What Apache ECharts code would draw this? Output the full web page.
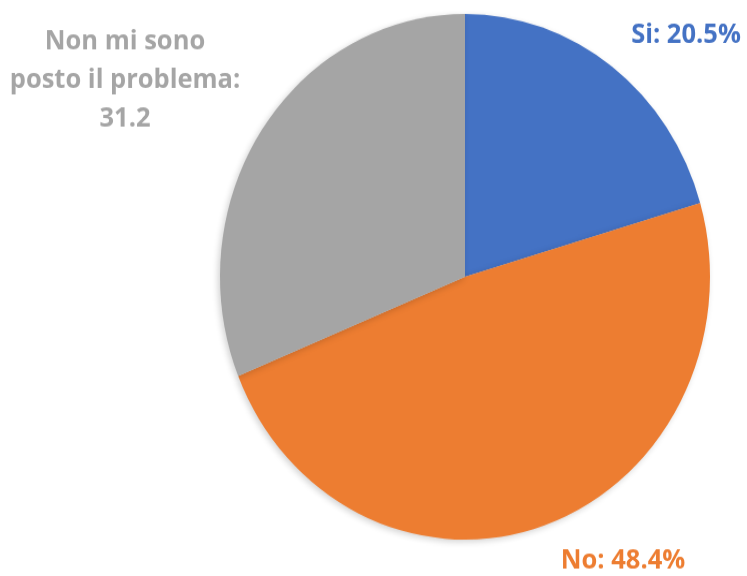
<!DOCTYPE html>
<html>
<head>
<meta charset="utf-8">
<script src="https://cdn.jsdelivr.net/npm/echarts@6/dist/echarts.min.js"></script>
<style>
  html, body { margin: 0; padding: 0; background: #fff; overflow: hidden; }
  /* il grafico originale è leggermente schiacciato: lo stiro in verticale */
  #main { width: 747px; height: 640px; transform: scaleY(1.0727); transform-origin: 0 0; }
</style>
</head>
<body>
<div id="main"></div>
<script>
  // dati
  var categorie = ['Si', 'No', 'Non mi sono\nposto il problema'];
  var valori = [20.5, 48.4, 31.2];
  var suffissi = ['%', '%', ''];
  var colori = ['#4472C4', '#ED7D31', '#A5A5A5'];

  // posizione delle etichette (coordinate del div prima dello stiramento)
  var posEtichette = [
    { x: 686, y: 33 },
    { x: 623, y: 523 },
    { x: 125, y: 75 }
  ];

  var myChart = echarts.init(document.getElementById('main'));

  var dati = categorie.map(function (nome, i) {
    return {
      name: nome,
      value: valori[i],
      itemStyle: { color: colori[i] },
      label: { color: colori[i] }
    };
  });

  var option = {
    animation: false,
    series: [
      {
        type: 'pie',
        center: [465, 258],
        radius: [0, 245],
        startAngle: 90,
        clockwise: true,
        data: dati,
        itemStyle: {
          borderWidth: 0,
          shadowBlur: 6,
          shadowColor: 'rgba(0,0,0,0.18)',
          shadowOffsetX: -2,
          shadowOffsetY: 2
        },
        label: {
          show: true,
          position: 'inside',
          overflow: 'none',
          fontFamily: 'Open Sans',
          fontWeight: 'bold',
          fontSize: 25.5,
          lineHeight: 36,
          align: 'center',
          formatter: function (p) {
            // l'etichetta grigia va su tre righe e senza %
            if (p.dataIndex === 2) {
              return p.name + ':\n' + p.value + suffissi[p.dataIndex];
            }
            return p.name + ': ' + p.value + suffissi[p.dataIndex];
          }
        },
        labelLine: { show: false },
        labelLayout: function (params) {
          var pos = posEtichette[params.dataIndex];
          return {
            x: pos.x,
            y: pos.y,
            align: 'center',
            verticalAlign: 'middle',
            hideOverlap: false
          };
        },
        emphasis: { disabled: true }
      }
    ]
  };

  myChart.setOption(option);
</script>
</body>
</html>
